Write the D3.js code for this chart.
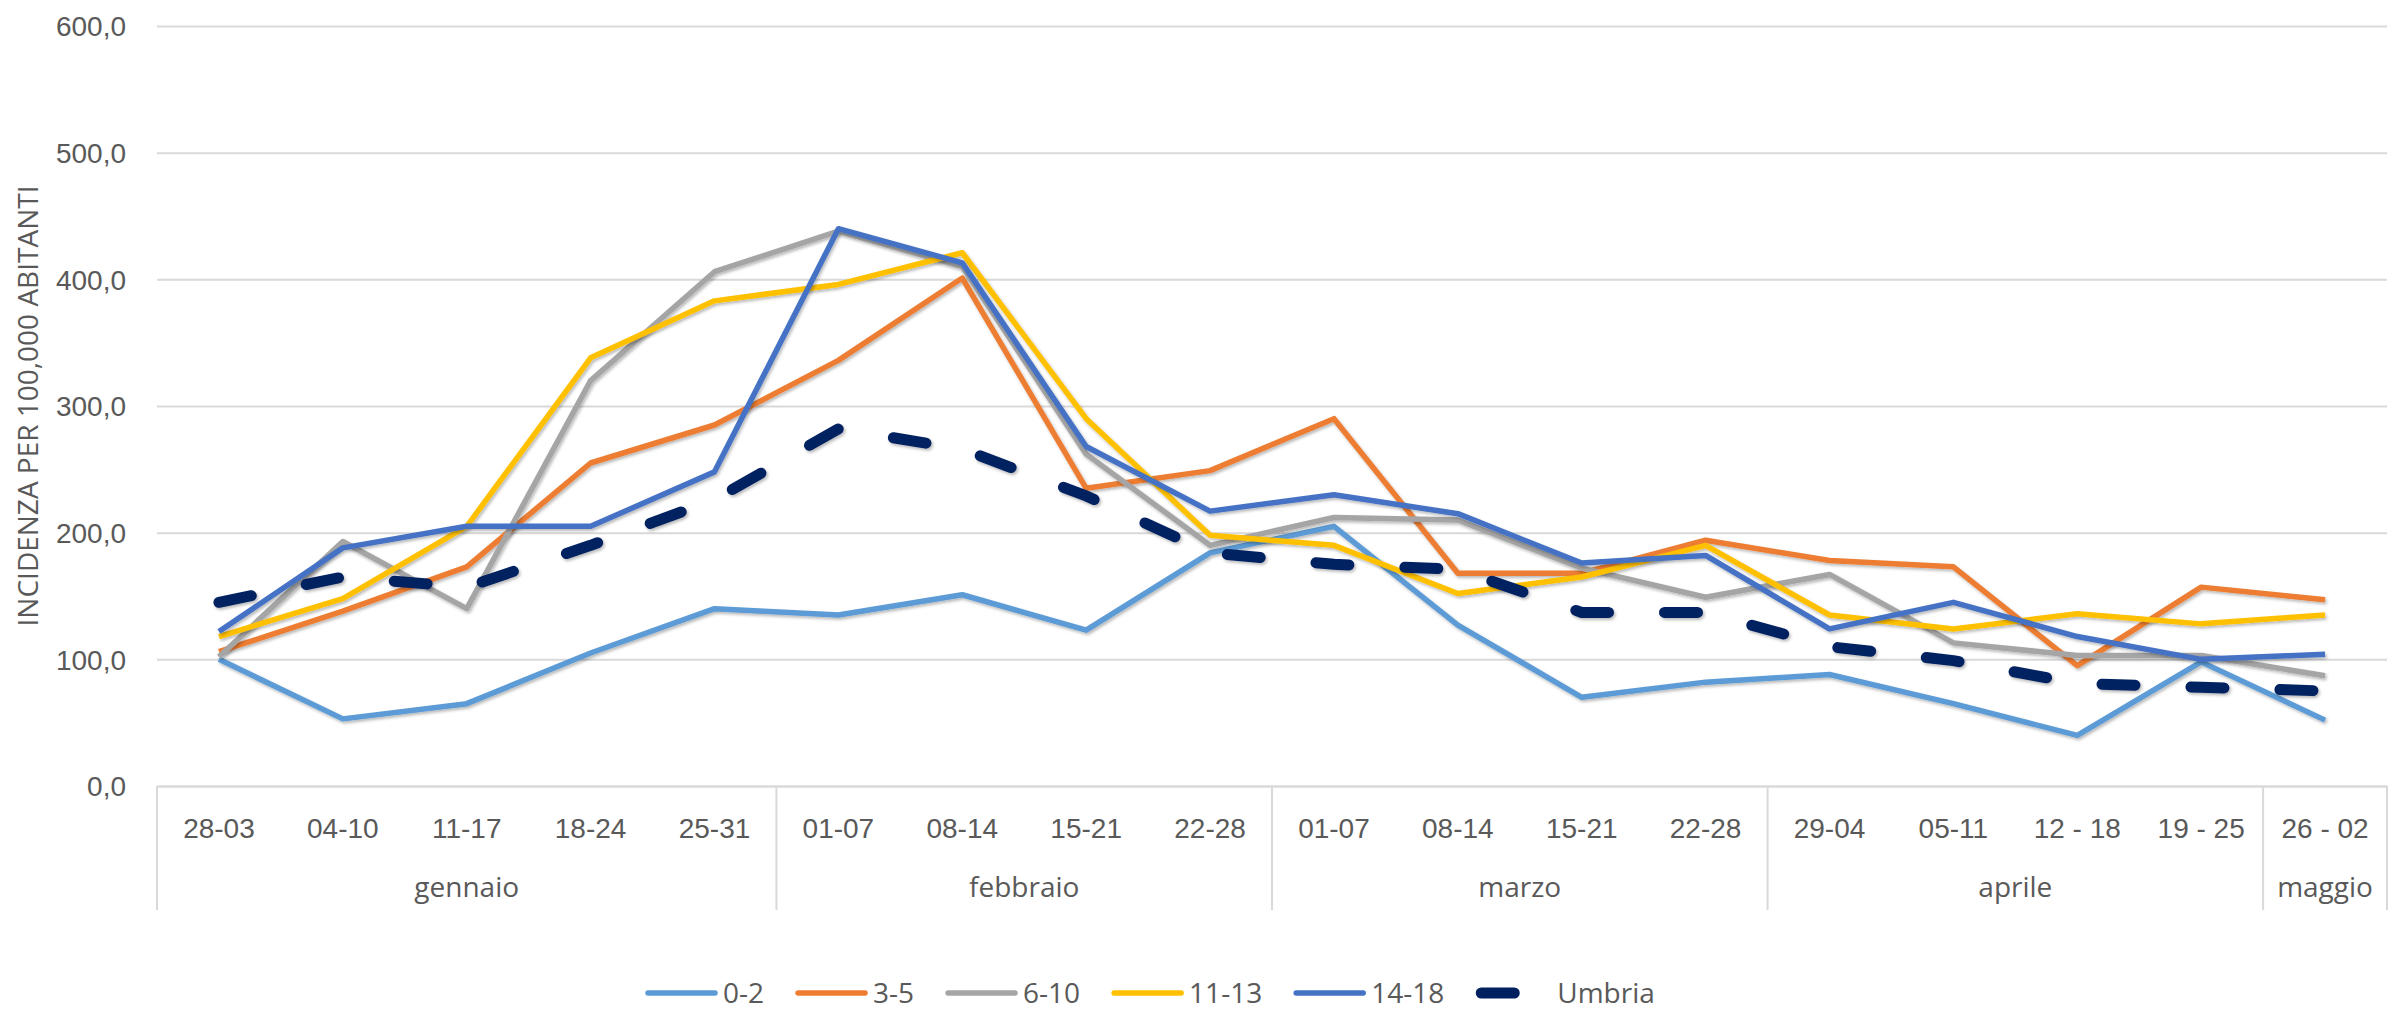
<!DOCTYPE html>
<html>
<head>
<meta charset="utf-8">
<style>
body { margin: 0; background: #fff; }
svg { display: block; font-family: 'Open Sans', sans-serif; }
.lbl { font-size: 28px; fill: #595959; }
</style>
</head>
<body>
<svg width="2390" height="1013"></svg>
<script src="https://d3js.org/d3.v7.min.js"></script>
<script>

// week labels along the x axis (first row)
const weeks = ['28-03', '04-10', '11-17', '18-24', '25-31',
    '01-07', '08-14', '15-21', '22-28',
    '01-07', '08-14', '15-21', '22-28',
    '29-04', '05-11', '12 - 18', '19 - 25',
    '26 - 02'];

// month labels (second row) and how many weeks each covers
const months = ['gennaio', 'febbraio', 'marzo', 'aprile', 'maggio'];
const monthSpans = [5, 4, 4, 4, 1];

const yTicks = [0, 100, 200, 300, 400, 500, 600];

const seriesNames = ['0-2', '3-5', '6-10', '11-13', '14-18', 'Umbria'];
const age0to2 = [100, 53, 65, 105, 140, 135, 151, 123, 184, 205, 127, 70, 82, 88, 65, 40, 98, 52];
const age3to5 = [106, 138, 173, 255, 285, 336, 401, 235, 249, 290, 168, 168, 194, 178, 173, 95, 157, 147];
const age6to10 = [102, 193, 140, 320, 406, 438, 410, 262, 190, 212, 210, 172, 149, 167, 113, 103, 103, 87];
const age11to13 = [118, 148, 205, 338, 383, 396, 421, 290, 198, 190, 152, 165, 190, 135, 124, 136, 128, 135];
const age14to18 = [122, 188, 205, 205, 248, 440, 413, 268, 217, 230, 215, 176, 182, 124, 145, 118, 100, 104];
const umbria = [145, 165, 157, 190, 226, 282, 266, 229, 184, 175, 171, 137, 137, 110, 99, 81, 78, 75];

const colors = ['#5b9bd5', '#ed7d31', '#a5a5a5', '#ffc000', '#4472c4', '#002060'];
const allSeries = [age0to2, age3to5, age6to10, age11to13, age14to18, umbria];

const gridColor = '#d9d9d9';

const margin = {top: 26, left: 157, right: 3, bottom: 227};
const fullWidth = 2390;
const fullHeight = 1013;

const svg = d3.select('svg');

const x = d3.scaleBand()
    .domain(d3.range(weeks.length))
    .range([margin.left, fullWidth - margin.right]);

const y = d3.scaleLinear()
    .domain([0, 600])
    .range([fullHeight - margin.bottom, margin.top]);

const xMid = i => x(i) + x.bandwidth() / 2;
const plotBottom = y(0);

// drop shadow like the excel lines
const defs = svg.append('defs');
defs.append('filter')
    .attr('id', 'shadow')
    .attr('x', '-5%').attr('y', '-5%')
    .attr('width', '110%').attr('height', '110%')
  .append('feDropShadow')
    .attr('dx', 1.5)
    .attr('dy', 2)
    .attr('stdDeviation', 1.6)
    .attr('flood-color', '#000')
    .attr('flood-opacity', 0.28);

// y axis + gridlines
const yAxis = svg.append('g')
    .attr('transform', `translate(${margin.left},0)`)
    .call(d3.axisLeft(y)
        .tickValues(yTicks)
        .tickSize(-(fullWidth - margin.right - margin.left))
        .tickPadding(31)
        .tickFormat(d => d3.format('.1f')(d).replace('.', ',')));
yAxis.select('.domain').remove();
yAxis.selectAll('line')
    .attr('stroke', gridColor)
    .attr('stroke-width', 2);
yAxis.selectAll('text')
    .attr('class', 'lbl')
    .attr('font-family', null)
    .attr('font-size', null)
    .attr('dy', '0.35em');

// y axis title
svg.append('text')
    .attr('class', 'lbl')
    .attr('transform', `translate(38,${(y(0) + y(600)) / 2}) rotate(-90)`)
    .attr('text-anchor', 'middle')
    .text('INCIDENZA PER 100,000 ABITANTI');

// category axis, first row
const xAxis = svg.append('g')
    .attr('transform', `translate(0,${plotBottom})`)
    .call(d3.axisBottom(x)
        .tickSize(0)
        .tickPadding(32)
        .tickFormat(i => weeks[i]));
xAxis.select('.domain')
    .attr('stroke', gridColor)
    .attr('stroke-width', 2);
xAxis.selectAll('text')
    .attr('class', 'lbl')
    .attr('font-family', null)
    .attr('font-size', null);

// month row and separators
let start = 0;
const bounds = [0];
months.forEach((m, k) => {
    const end = start + monthSpans[k];
    const x0 = x(start);
    const x1 = x(end - 1) + x.bandwidth();
    svg.append('text')
        .attr('class', 'lbl')
        .attr('x', (x0 + x1) / 2)
        .attr('y', plotBottom + 111)
        .attr('text-anchor', 'middle')
        .text(m);
    bounds.push(end);
    start = end;
});

svg.append('g')
    .selectAll('line')
    .data(bounds)
    .join('line')
    .attr('x1', d => d < weeks.length ? x(d) : x(d - 1) + x.bandwidth())
    .attr('x2', d => d < weeks.length ? x(d) : x(d - 1) + x.bandwidth())
    .attr('y1', plotBottom)
    .attr('y2', plotBottom + 124)
    .attr('stroke', gridColor)
    .attr('stroke-width', 2);

// lines
const line = d3.line()
    .x((d, i) => xMid(i))
    .y(d => y(d));

svg.append('g')
    .selectAll('path')
    .data(allSeries)
    .join('path')
    .attr('d', line)
    .attr('fill', 'none')
    .attr('stroke', (d, i) => colors[i])
    .attr('stroke-width', (d, i) => i === 5 ? 11 : 5.5)
    .attr('stroke-linejoin', 'round')
    .attr('stroke-linecap', (d, i) => i === 5 ? 'round' : 'butt')
    .attr('stroke-dasharray', (d, i) => i === 5 ? '33,56' : null)
    .attr('filter', 'url(#shadow)');

// legend
const legend = svg.append('g');
const legendY = 993;
let lx = 645;
seriesNames.forEach((name, i) => {
    const isDash = i === 5;
    legend.append('line')
        .attr('x1', isDash ? lx + 6 : lx + 3)
        .attr('x2', isDash ? lx + 39 : lx + 70)
        .attr('y1', legendY)
        .attr('y2', legendY)
        .attr('stroke', colors[i])
        .attr('stroke-width', isDash ? 11 : 5.5)
        .attr('stroke-linecap', 'round');
    const t = legend.append('text')
        .attr('class', 'lbl')
        .attr('x', isDash ? lx + 82 : lx + 78)
        .attr('y', legendY)
        .attr('dy', '0.35em')
        .text(name);
    lx += 78 + t.node().getComputedTextLength() + 31;
});

</script>
</body>
</html>
